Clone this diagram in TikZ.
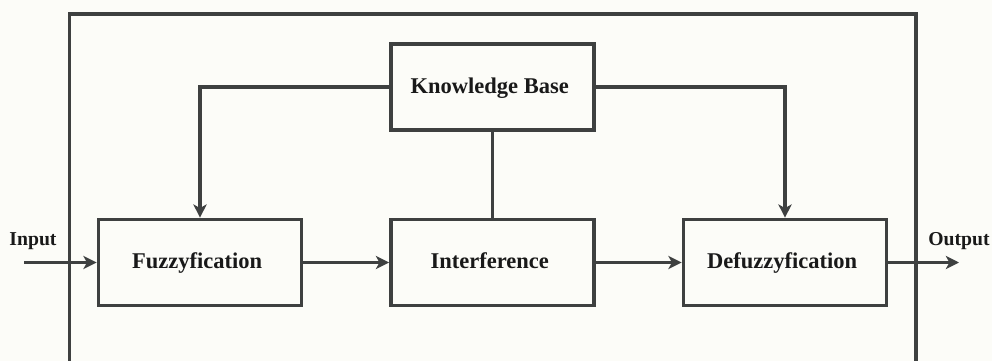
\documentclass[tikz,border=0pt]{standalone}
\usepackage{fontspec}
\setmainfont{Liberation Serif}
\usetikzlibrary{arrows.meta}
\definecolor{linha}{RGB}{62,64,64}
\definecolor{fundo}{RGB}{252,252,248}
\definecolor{texto}{RGB}{25,25,25}

\begin{document}
\begin{tikzpicture}[x=0.025cm, y=-0.025cm,
		bloco/.style={shape=rectangle, draw=linha, line width=2.6pt, align=center, text=texto,
			minimum width=5.08cm, minimum height=2.15cm, text height=1.95ex, text depth=0pt,
			font=\fontsize{16}{19}\selectfont\bfseries},
		rotulo/.style={text=texto, text height=1.9ex, text depth=0pt, font=\fontsize{14}{17}\selectfont\bfseries},
		seta/.style={color=linha, line width=2.4pt, -{Stealth[length=3.3mm, width=3.3mm, inset=0.9mm]}},
		traco/.style={draw=linha, line width=2.4pt}]
			\useasboundingbox (0,0) rectangle (992,361);
			\fill[fundo] (0,0) rectangle (992,361);
			
			% outer frame
			\draw[traco, line width=2.8pt] (69.5,361) -- (69.5,14) -- (916,14) -- (916,361);
			
			\node (b1)[bloco] 
			at (492.5,87){
				Knowledge Base
			}; 
			
			\node (b2)[bloco] 
			at (200,262.5){
				Fuzzyfication
			}; 
			
			\node (b3)[bloco] 
			at (492.5,262.5){
				Interference
			}; 
			
			\node (b4)[bloco] 
			at (785,262.5){
				Defuzzyfication
			}; 
			
			\node (t1)[rotulo] at (33,239) {Input};
			\node (t2)[rotulo] at (959,239) {Output};
			
			\coordinate (c1) at (24,262.5);
			\coordinate (c2) at (959,262.5);
			
			\path[seta] (c1) edge (b2);
			\path[seta] (b2) edge (b3);
			\path[seta] (b3) edge (b4);
			\path[seta] (b4) edge (c2);
			\draw[seta] (b1.west) -| (b2.north);
			\draw[seta] (b1.east) -| (b4.north);
			\draw[traco] (b1) -- (b3);
		\end{tikzpicture}
\end{document}
